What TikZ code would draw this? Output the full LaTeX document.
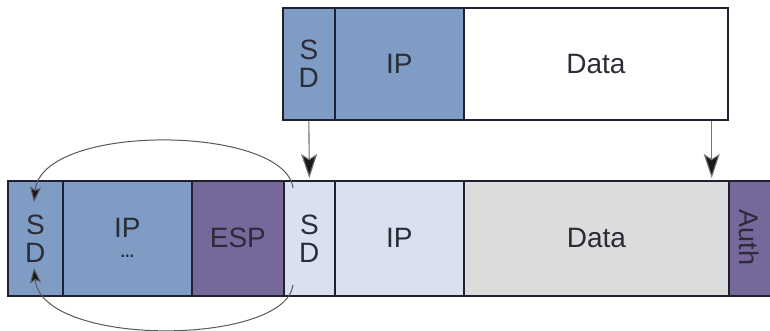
\documentclass[tikz,border=0pt]{standalone}
\usepackage{fontspec}
\setmainfont{Liberation Sans}
\usetikzlibrary{arrows.meta}
\definecolor{steel}{HTML}{7F9CC4}
\definecolor{lilac}{HTML}{76689A}
\definecolor{pale}{HTML}{D9E1EF}
\definecolor{lgray}{HTML}{DCDCDC}
\definecolor{edge}{HTML}{1E2230}
\definecolor{ink}{HTML}{2A2C38}
\tikzset{
  cell/.style={draw=edge, line width=1.7pt, anchor=north west, inner sep=0pt,
    text=ink, font=\fontsize{28}{28}\selectfont, align=center},
  flow/.style={draw=black!55, line width=1.1pt, -{Stealth[length=24pt,width=16pt,inset=5pt,fill=black!90]}},
  loop/.style={draw=black!65, line width=1pt, -{Stealth[length=15pt,width=11pt,inset=3pt,fill=black!90]}}
}
\begin{document}
\begin{tikzpicture}[x=1pt,y=-1pt]
\useasboundingbox[fill=white] (0,0) rectangle (770,330);
% top row
\node[cell, fill=steel, minimum width=52, minimum height=112] (tSD) at (282,7)
  {\fontsize{28}{26}\selectfont S\\D};
\node[cell, fill=steel, minimum width=129, minimum height=112] (tIP) at (334,7) {IP};
\node[cell, fill=white, minimum width=264, minimum height=112] (tData) at (463,7) {Data};
% bottom row
\node[cell, fill=steel, minimum width=55, minimum height=115] (bSD1) at (7,180)
  {\fontsize{28}{25}\selectfont S\\D};
\node[cell, fill=steel, minimum width=129, minimum height=115] (bIP1) at (62,180)
  {IP\\[-8pt]{\fontsize{16}{16}\selectfont\bfseries ...}};
\node[cell, fill=lilac, minimum width=92, minimum height=115] (bESP) at (191,180) {ESP};
\node[cell, fill=pale, minimum width=51, minimum height=115] (bSD2) at (283,180)
  {\fontsize{28}{25}\selectfont S\\D};
\node[cell, fill=pale, minimum width=129, minimum height=115] (bIP2) at (334,180) {IP};
\node[cell, fill=lgray, minimum width=265, minimum height=115] (bData) at (463,180) {Data};
\node[cell, fill=lilac, minimum width=50, minimum height=115] (bAuth) at (728,180) {};
\node[rotate=-90, text=ink, font=\fontsize{27}{27}\selectfont] (authtxt) at (749,237.5) {Auth};
% arrows from top to bottom
\draw[flow, shorten >=2pt] (tSD.south) -- (bSD2.north);
\draw[flow, shorten >=2pt] ([xshift=-17pt]tData.south east) -- ([xshift=-18pt]bData.north east);
% loop arcs
\coordinate (ltop) at (293,188);
\coordinate (lbot) at (293,285);
\coordinate (tipT) at (34,202);
\coordinate (tipB) at (34,268);
\draw[loop] (ltop) .. controls (285,125) and (42,122) .. (tipT);
\draw[loop] (lbot) .. controls (285,346) and (42,348) .. (tipB);
\end{tikzpicture}
\end{document}
